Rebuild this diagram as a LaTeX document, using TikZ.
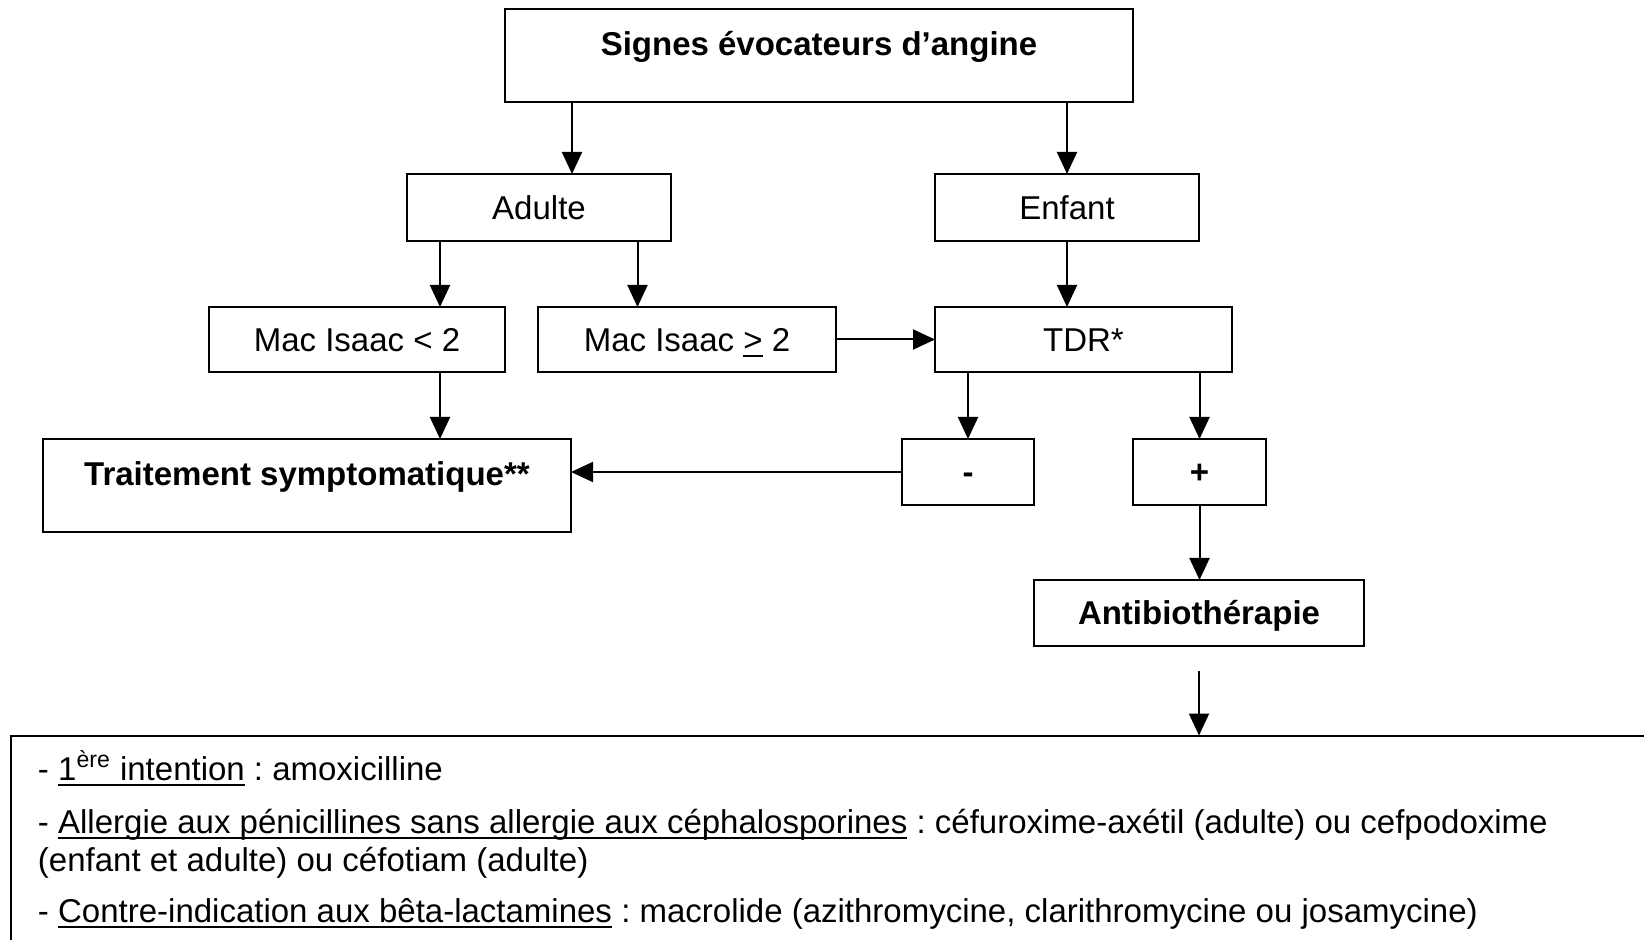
\documentclass[tikz,border=0pt]{standalone}
\usepackage{fontspec}
\setmainfont{Liberation Sans}
\usetikzlibrary{arrows.meta}
\frenchspacing
\newsavebox\ulbox
\newcommand\ulx[1]{\sbox\ulbox{#1}\rlap{\rule[-3pt]{\wd\ulbox}{1pt}}\usebox\ulbox}
\begin{document}
\begin{tikzpicture}[x=0.5pt,y=-0.5pt,
  every node/.style={font=\fontsize{16.5}{19}\selectfont, inner sep=0pt, outer sep=0pt},
  box/.style={draw, line width=1pt, text height=11.8pt, text depth=0pt, align=center},
  bigbox/.style={draw, line width=1pt, text height=23.25pt, text depth=23.25pt, font=\fontsize{16.5}{19}\selectfont\bfseries},
  arr/.style={-{Triangle[length=11pt,width=10pt]}, line width=1pt},
  txt/.style={anchor=base west}
]
\useasboundingbox (0,0) rectangle (1644,940);
\clip (0,0) rectangle (1644,940);

% boxes
\node[bigbox, minimum width=314pt] (top) at (819,56) {Signes évocateurs d’angine};
\node[box, minimum width=132pt, minimum height=33.5pt] (adulte) at (539,207.5) {Adulte};
\node[box, minimum width=132pt, minimum height=33.5pt] (enfant) at (1067,207.5) {Enfant};
\node[box, minimum width=148pt, minimum height=32.5pt] (maclt) at (357,339.5) {Mac Isaac < 2};
\node[box, minimum width=149pt, minimum height=32.5pt] (macge) at (687,339.5) {Mac Isaac \ulx{>} 2};
\node[box, minimum width=148.5pt, minimum height=32.5pt] (tdr) at (1083.5,339.5) {TDR*};
\node[bigbox, minimum width=264pt] (trait) at (307,485.5) {Traitement symptomatique**};
\node[box, minimum width=66pt, minimum height=33pt, font=\fontsize{16.5}{19}\selectfont\bfseries] (minus) at (968,472) {-};
\node[box, minimum width=66.5pt, minimum height=33pt, font=\fontsize{16.5}{19}\selectfont\bfseries] (plus) at (1199.5,472) {+};
\node[box, minimum width=165pt, minimum height=33pt, font=\fontsize{16.5}{19}\selectfont\bfseries] (antibio) at (1199,613) {Antibiothérapie};

% recommendation box (extends beyond the page)
\node[draw, line width=1pt, anchor=north west, minimum width=845pt, minimum height=135pt] (reco) at (10.5,735.5) {};
\node[txt] (l1) at (38,780) {- \ulx{1\textsuperscript{ère} intention} : amoxicilline};
\node[txt] (l2) at (38,833) {- \ulx{Allergie aux pénicillines sans allergie aux céphalosporines} : céfuroxime-axétil (adulte) ou cefpodoxime};
\node[txt] (l3) at (38,871.5) {(enfant et adulte) ou céfotiam (adulte)};
\node[txt] (l4) at (38,922) {- \ulx{Contre-indication aux bêta-lactamines} : macrolide (azithromycine, clarithromycine ou josamycine)};

% connectors
\coordinate (xa) at (572,0);
\coordinate (xb) at (440,0);
\coordinate (xc) at (637.5,0);
\draw[arr] (top.south -| xa) -- (adulte.north -| xa);
\draw[arr] (top.south -| enfant.north) -- (enfant.north);
\draw[arr] (adulte.south -| xb) -- (maclt.north -| xb);
\draw[arr] (adulte.south -| xc) -- (macge.north -| xc);
\draw[arr] (enfant.south) -- (tdr.north -| enfant.south);
\draw[arr] (macge.east) -- (tdr.west);
\draw[arr] (maclt.south -| xb) -- (trait.north -| xb);
\draw[arr] (tdr.south -| minus.north) -- (minus.north);
\draw[arr] (tdr.south -| plus.north) -- (plus.north);
\draw[arr] (minus.west) -- (minus.west -| trait.east);
\draw[arr] (plus.south) -- (antibio.north -| plus.south);
\coordinate (astart) at ([yshift=-12.5pt]antibio.south);
\draw[arr] (astart) -- (astart |- reco.north);
\end{tikzpicture}
\end{document}
